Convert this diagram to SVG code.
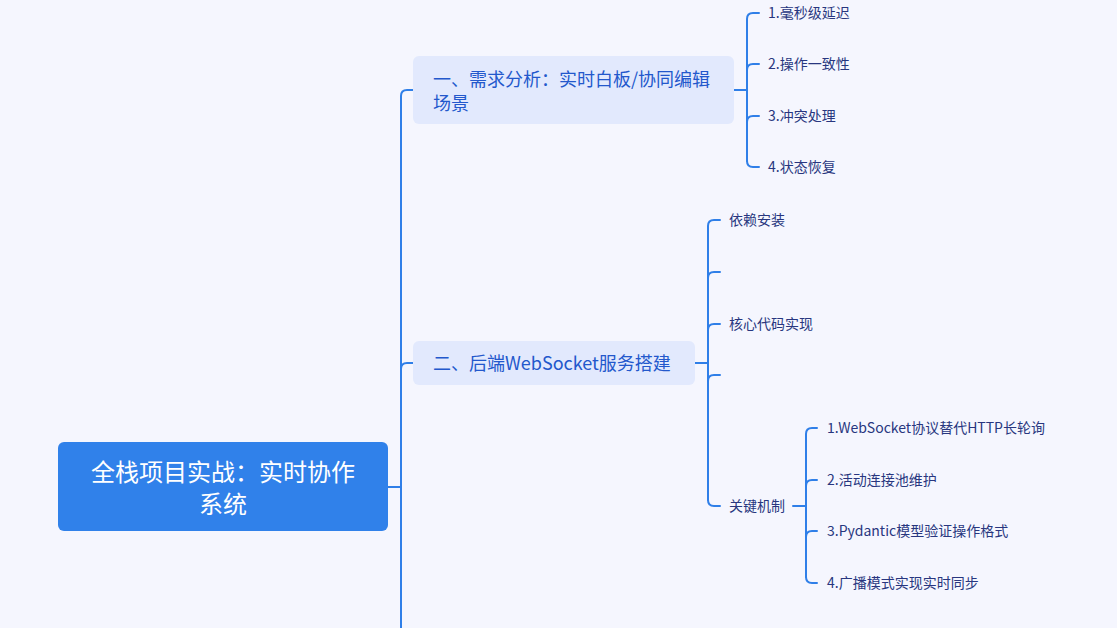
<svg xmlns="http://www.w3.org/2000/svg" width="1117" height="628" viewBox="0 0 1117 628">
<style>
.bg{fill:#f5f6fe}
.ln{fill:none;stroke:#2f7fe8;stroke-width:2;stroke-linecap:round}
.root{fill:#3081ea}
.sub{fill:#e2e9fd}
.t{font-family:"Noto Sans CJK SC","Noto Sans",sans-serif;dominant-baseline:central}
.rt{fill:#ffffff;font-size:24px;text-anchor:middle}
.st{fill:#2358cc;font-size:18px}
.lt{fill:#28367f;font-size:14px}
</style>
<rect class="bg" x="0" y="0" width="1117" height="628"/>
<g id="connectors">
<path class="ln" d="M388 487 H401"/>
<path class="ln" d="M401 640 V96 Q401 90 407 90 H413"/>
<path class="ln" d="M401 369 Q401 363 407 363 H413"/>
<path class="ln" d="M734 90 H747"/>
<path class="ln" d="M747 161 V19 Q747 13 753 13 H759"/>
<path class="ln" d="M747 70 Q747 64 753 64 H759"/>
<path class="ln" d="M747 122 Q747 116 753 116 H759"/>
<path class="ln" d="M747 161 Q747 167 753 167 H759"/>
<path class="ln" d="M695 363 H708"/>
<path class="ln" d="M708 500 V226 Q708 220 714 220 H720"/>
<path class="ln" d="M708 278 Q708 272 714 272 H720"/>
<path class="ln" d="M708 330 Q708 324 714 324 H720"/>
<path class="ln" d="M708 381 Q708 375 714 375 H720"/>
<path class="ln" d="M708 500 Q708 506 714 506 H720"/>
<path class="ln" d="M793 506 H806"/>
<path class="ln" d="M806 577 V434 Q806 428 812 428 H817"/>
<path class="ln" d="M806 486 Q806 480 812 480 H817"/>
<path class="ln" d="M806 537 Q806 531 812 531 H817"/>
<path class="ln" d="M806 577 Q806 583 812 583 H817"/>
</g>
<g id="root">
<rect class="root" x="58" y="442" width="330" height="89" rx="6"/>
<text class="t rt" x="223" y="470">全栈项目实战：实时协作</text>
<text class="t rt" x="223" y="502">系统</text>
</g>
<g id="n1">
<rect class="sub" x="413" y="56" width="321" height="68" rx="6"/>
<text class="t st" x="433" y="78">一、需求分析：实时白板/协同编辑</text>
<text class="t st" x="433" y="102">场景</text>
</g>
<g id="n1a"><text class="t lt" x="768" y="12">1.毫秒级延迟</text></g>
<g id="n1b"><text class="t lt" x="768" y="63">2.操作一致性</text></g>
<g id="n1c"><text class="t lt" x="768" y="115">3.冲突处理</text></g>
<g id="n1d"><text class="t lt" x="768" y="166">4.状态恢复</text></g>
<g id="n2">
<rect class="sub" x="413" y="341" width="282" height="44" rx="6"/>
<text class="t st" x="433" y="362">二、后端WebSocket服务搭建</text>
</g>
<g id="n2a"><text class="t lt" x="729" y="219">依赖安装</text></g>
<g id="n2b"><text class="t lt" x="729" y="323">核心代码实现</text></g>
<g id="n2c"><text class="t lt" x="729" y="505">关键机制</text></g>
<g id="n2c1"><text class="t lt" x="827" y="427">1.WebSocket协议替代HTTP长轮询</text></g>
<g id="n2c2"><text class="t lt" x="827" y="479">2.活动连接池维护</text></g>
<g id="n2c3"><text class="t lt" x="827" y="530">3.Pydantic模型验证操作格式</text></g>
<g id="n2c4"><text class="t lt" x="827" y="582">4.广播模式实现实时同步</text></g>
</svg>
